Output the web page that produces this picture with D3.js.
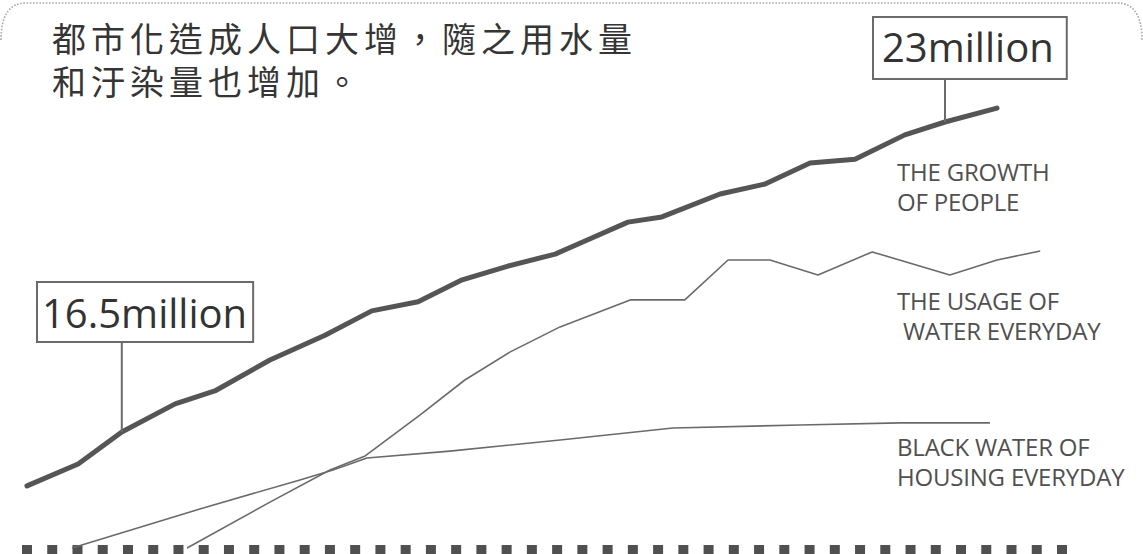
<!DOCTYPE html>
<html><head><meta charset="utf-8">
<script src="https://cdn.jsdelivr.net/npm/d3@7"></script>
<style>body{margin:0;background:#fff;overflow:hidden} svg{display:block}</style>
</head><body><svg id="c" width="1143" height="554"></svg>
<script>
// ---------- data ----------
const titleLines = ["都市化造成人口大增，隨之用水量", "和汙染量也增加。"];

// population (millions)
const popYears  = [1990.0,1991.16,1992.15,1993.36,1994.26,1995.51,1996.76,1997.82,1998.87,1999.87,2000.91,2001.98,2002.72,2003.63,2004.40,2005.72,2006.74,2007.76,2008.78,2009.91,2010.82,2012.0];
const popValues = [15.37,15.83,16.5,17.09,17.36,18.01,18.53,19.04,19.23,19.69,19.98,20.23,20.53,20.90,21.01,21.49,21.70,22.14,22.22,22.73,23.0,23.29];

// daily water usage (relative index)
const waterYears  = [1993.63,1995.51,1996.87,1997.67,1998.91,1999.93,2000.95,2002.09,2003.68,2004.92,2005.90,2006.85,2007.94,2009.17,2010.93,2012.0,2012.98];
const waterValues = [0,15.3,26,30.7,44.3,56,65.3,73.7,82.7,82.7,96,96,91,98.7,91,96,99];

// black water of housing (relative index)
const blackYears  = [1991.02,1993.92,1996.19,1996.94,1997.71,1999.59,2002.09,2004.65,2007.53,2009.80,2011.84];
const blackValues = [0,13,22.7,26,30,32.3,36,40,41,41.7,41.7];

const seriesLabels = [
  ["THE GROWTH", "OF PEOPLE"],
  ["THE USAGE OF", " WATER EVERYDAY"],
  ["BLACK WATER OF", "HOUSING EVERYDAY"]
];
const annotations = [
  {year: 1992.15, value: 16.5, text: "16.5million"},
  {year: 2010.82, value: 23,   text: "23million"}
];
const baselineTicks = d3.range(42);

// ---------- scales ----------
const svg = d3.select("#c");
const x = d3.scaleLinear().domain([1990, 2012]).range([27, 997]);
const yPop = d3.scaleLinear().domain([16.5, 23]).range([432, 122]);
const yIdx = d3.scaleLinear().domain([0, 100]).range([548, 248]);

// ---------- frame ----------
svg.append("rect").attr("width",1143).attr("height",554).attr("fill","#fff");
svg.append("path")
  .attr("d","M1,40 Q1,3 26,3 H1117 Q1142,3 1142,40")
  .attr("fill","none").attr("stroke","#a8a8a8").attr("stroke-width",1.6)
  .attr("stroke-dasharray","1.6,1.6");

// baseline squares
const bx = d3.scaleLinear().domain([0, 41]).range([22, 1057]);
svg.append("g").selectAll("rect").data(baselineTicks).join("rect")
  .attr("x", d => bx(d)).attr("y", 545).attr("width", 10).attr("height", 12)
  .attr("fill", "#505050");

// ---------- title ----------
svg.append("text")
  .attr("font-family", "Lato,'Noto Sans CJK TC','Noto Sans CJK SC',sans-serif")
  .attr("font-size", 34).attr("letter-spacing", 5)
  .attr("fill", "#353535")
  .selectAll("tspan").data(titleLines).join("tspan")
  .attr("x", 52).attr("y", (d,i) => 52 + i*43)
  .text(d => d);

// ---------- lines ----------
const line = (xs, ys, ysc) => d3.line()(xs.map((v,i) => [x(v), ysc(ys[i])]));
svg.append("path").attr("d", line(blackYears, blackValues, yIdx))
  .attr("fill","none").attr("stroke","#6a6a6a").attr("stroke-width",1.6).attr("stroke-linejoin","round");
svg.append("path").attr("d", line(waterYears, waterValues, yIdx))
  .attr("fill","none").attr("stroke","#6a6a6a").attr("stroke-width",1.6).attr("stroke-linejoin","round");
svg.append("path").attr("d", line(popYears, popValues, yPop))
  .attr("fill","none").attr("stroke","#555").attr("stroke-width",5).attr("stroke-linejoin","round").attr("stroke-linecap","round");

// ---------- series labels ----------
const labelPos = [[897,181],[897,310],[897,456]];
seriesLabels.forEach((lines, k) => {
  svg.append("text")
    .attr("font-family","'Open Sans',sans-serif").attr("font-size",24)
    .attr("letter-spacing",-0.2).attr("fill","#505050")
    .style("white-space","pre")
    .selectAll("tspan").data(lines).join("tspan")
    .attr("x", labelPos[k][0]).attr("y", (d,i) => labelPos[k][1] + i*30)
    .text(d => d);
});

// ---------- annotations ----------
const annoLayout = [
  {tx: 42, base: 328, boxTop: 282, boxBottom: 342, padL: 5, padR: 6},
  {tx: 882, base: 62, boxTop: 17, boxBottom: 79, padL: 9, padR: 13}
];
annotations.forEach((a, k) => {
  const L = annoLayout[k];
  const px = x(a.year), py = yPop(a.value);
  const g = svg.append("g");
  g.append("line").attr("x1", px).attr("x2", px).attr("y1", L.boxBottom).attr("y2", py)
    .attr("stroke","#6a6a6a").attr("stroke-width",2);
  const r = g.append("rect");
  const t = g.append("text").attr("x", L.tx).attr("y", L.base)
    .attr("font-family","'Open Sans',sans-serif").attr("font-size",40)
    .attr("letter-spacing",0).attr("fill","#333").text(a.text);
  const bb = t.node().getBBox();
  r.attr("x", L.tx - L.padL).attr("y", L.boxTop)
    .attr("width", bb.width + L.padL + L.padR).attr("height", L.boxBottom - L.boxTop)
    .attr("fill","#fff").attr("stroke","#6a6a6a").attr("stroke-width",2);
});
</script></body></html>
